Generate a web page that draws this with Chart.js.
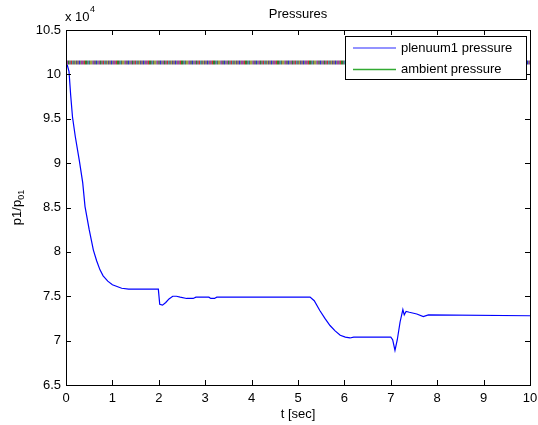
<!DOCTYPE html>
<html>
<head>
<meta charset="utf-8">
<title>Pressures</title>
<script src="https://cdn.jsdelivr.net/npm/chart.js"></script>
<style>
    html, body { margin: 0; padding: 0; background: #fff; }
    #myChart { display: block; }
</style>
</head>
<body>
<canvas id="myChart" width="538" height="425"></canvas>
<script>
// Dados da simulação (tempo em s, pressão em Pa)
const tempo = [0, 0.03, 0.065, 0.1, 0.14, 0.2, 0.29, 0.36, 0.41, 0.5,
    0.59, 0.66, 0.73, 0.8, 0.9, 1.0, 1.1, 1.2, 1.35, 1.99,
    2.02, 2.08, 2.15, 2.22, 2.3, 2.38, 2.46, 2.6, 2.74, 2.8,
    3.08, 3.12, 3.2, 3.25, 5.26, 5.35, 5.47, 5.58, 5.69, 5.8,
    5.91, 6.02, 6.12, 6.2, 7.0, 7.04, 7.09, 7.14, 7.2, 7.26,
    7.29, 7.33, 7.4, 7.56, 7.7, 7.81, 10];
const pressaoPlenum = [101300, 101000, 100300, 97700, 95200, 93000, 90200, 87800, 85100, 82500,
    80200, 79000, 78000, 77300, 76700, 76300, 76100, 75900, 75800, 75800,
    74100, 74000, 74300, 74700, 75000, 75000, 74900, 74750, 74750, 74900,
    74900, 74750, 74750, 74900, 74900, 74500, 73400, 72500, 71700, 71100,
    70600, 70400, 70300, 70400, 70400, 70100, 68900, 70100, 72100, 73500,
    72900, 73300, 73200, 73000, 72700, 72900, 72800];
const tempoAmbiente = [0, 10];
const pressaoAmbiente = [101325, 101325];

const ticksX = [0, 1, 2, 3, 4, 5, 6, 7, 8, 9, 10];
const ticksY = [65000, 70000, 75000, 80000, 85000, 90000, 95000, 100000, 105000];

const legendas = ['plenuum1 pressure', 'ambient pressure'];
const FONTE = '"Liberation Sans", Arial, sans-serif';

// linha do ambiente: listras coloridas (parece várias curvas sobrepostas)
function criarListras(ctx) {
    const cores = ['#3030d0', '#808080', '#a040a0', '#308030', '#7f6f7f', '#d03030', '#40a0a0', '#707070',
        '#a0a040', '#505090', '#8f6f6f', '#3030d0', '#6f8f6f', '#a040a0', '#787878', '#d03030',
        '#308030', '#806080', '#40a0a0', '#606060', '#a0a040', '#7f7f9f', '#a040a0', '#687068'];
    const larguras = [1, 2, 1, 1, 2, 1, 1, 2, 1, 1, 2, 1, 1, 2, 1, 1, 2, 1, 1, 1, 2, 1, 1, 2];
    const total = larguras.reduce((a, b) => a + b, 0);
    const c = document.createElement('canvas');
    c.width = total;
    c.height = 8;
    const g = c.getContext('2d');
    let x = 0;
    cores.forEach((cor, i) => {
        g.fillStyle = cor;
        g.fillRect(x, 0, larguras[i], 8);
        x += larguras[i];
    });
    return ctx.createPattern(c, 'repeat');
}

// moldura, ticks internos, títulos e legenda no estilo do MATLAB
const estiloMatlab = {
    id: 'estiloMatlab',
    afterDraw(chart) {
        const ctx = chart.ctx;
        const a = chart.chartArea;
        const sx = chart.scales.x;
        const sy = chart.scales.y;
        ctx.save();
        ctx.strokeStyle = '#000';
        ctx.lineWidth = 1;

        ticksX.forEach(v => {
            const px = Math.round(sx.getPixelForValue(v)) + 0.5;
            ctx.beginPath();
            ctx.moveTo(px, a.bottom); ctx.lineTo(px, a.bottom - 5);
            ctx.moveTo(px, a.top); ctx.lineTo(px, a.top + 5);
            ctx.stroke();
        });
        ticksY.forEach(v => {
            const py = Math.round(sy.getPixelForValue(v)) + 0.5;
            ctx.beginPath();
            ctx.moveTo(a.left, py); ctx.lineTo(a.left + 5, py);
            ctx.moveTo(a.right, py); ctx.lineTo(a.right - 5, py);
            ctx.stroke();
        });

        // legenda
        const lx = 345.5, ly = 36.5, lw = 181, lh = 43;
        ctx.fillStyle = '#fff';
        ctx.fillRect(lx, ly, lw, lh);
        ctx.strokeStyle = '#000';
        ctx.strokeRect(lx, ly, lw, lh);
        const linhas = [{ y: 48, cor: '#6f6fff' }, { y: 69.5, cor: '#33aa33' }];
        ctx.font = '13px ' + FONTE;
        ctx.textBaseline = 'middle';
        ctx.textAlign = 'left';
        linhas.forEach((l, i) => {
            ctx.strokeStyle = l.cor;
            ctx.lineWidth = 1.5;
            ctx.beginPath();
            ctx.moveTo(353, l.y);
            ctx.lineTo(396, l.y);
            ctx.stroke();
            ctx.fillStyle = '#000';
            ctx.fillText(legendas[i], 401, l.y);
        });

        // moldura
        ctx.lineWidth = 1;
        ctx.strokeStyle = '#000';
        ctx.strokeRect(Math.round(a.left) + 0.5, Math.round(a.top) + 0.5,
            Math.round(a.right - a.left), Math.round(a.bottom - a.top));

        // títulos
        ctx.fillStyle = '#000';
        ctx.textAlign = 'center';
        ctx.fillText('Pressures', (a.left + a.right) / 2, 14);
        ctx.fillText('t [sec]', (a.left + a.right) / 2, 414);

        ctx.textAlign = 'left';
        ctx.fillText('x 10', 65, 17);
        ctx.font = '9px ' + FONTE;
        ctx.fillText('4', 90, 10);

        // eixo y: p1/p01 com subscrito
        ctx.translate(21, (a.top + a.bottom) / 2);
        ctx.rotate(-Math.PI / 2);
        ctx.textBaseline = 'alphabetic';
        ctx.font = '13px ' + FONTE;
        const principal = 'p1/p';
        const wP = ctx.measureText(principal).width;
        ctx.font = '9px ' + FONTE;
        const wS = ctx.measureText('01').width;
        const x0 = -(wP + wS) / 2;
        ctx.font = '13px ' + FONTE;
        ctx.fillText(principal, x0, 0);
        ctx.font = '9px ' + FONTE;
        ctx.fillText('01', x0 + wP, 3);
        ctx.restore();
    }
};

let myChart;

document.addEventListener("DOMContentLoaded", function() {
    const ctx = document.getElementById('myChart').getContext('2d');

    const dadosPlenum = tempo.map((t, i) => ({ x: t, y: pressaoPlenum[i] }));
    const dadosAmbiente = tempoAmbiente.map((t, i) => ({ x: t, y: pressaoAmbiente[i] }));

    const config = {
        type: 'line',
        data: {
            datasets: [{
                label: legendas[0],
                data: dadosPlenum,
                borderColor: '#0000ff',
                borderWidth: 1.2,
                pointRadius: 0,
                tension: 0,
                order: 1
            }, {
                label: legendas[1],
                data: dadosAmbiente,
                borderColor: criarListras(ctx),
                borderWidth: 4,
                pointRadius: 0,
                tension: 0,
                order: 0
            }]
        },
        options: {
            responsive: false,
            animation: false,
            events: [],
            layout: { padding: { left: 0, top: 30, right: 8, bottom: 0 } },
            plugins: {
                legend: { display: false },
                tooltip: { enabled: false }
            },
            scales: {
                x: {
                    type: 'linear',
                    min: 0,
                    max: 10,
                    afterBuildTicks: s => { s.ticks = ticksX.map(v => ({ value: v })); },
                    afterFit: s => {
                        s.height = 40;
                        s.paddingLeft = 0;
                        s.paddingRight = 0;
                    },
                    grid: { display: false, drawTicks: false },
                    border: { display: false },
                    ticks: {
                        padding: 6,
                        maxRotation: 0,
                        color: '#000',
                        font: { family: FONTE, size: 13 }
                    }
                },
                y: {
                    type: 'linear',
                    min: 65000,
                    max: 105000,
                    afterBuildTicks: s => { s.ticks = ticksY.map(v => ({ value: v })); },
                    afterFit: s => {
                        s.width = 66;
                        s.paddingTop = 0;
                        s.paddingBottom = 0;
                    },
                    grid: { display: false, drawTicks: false },
                    border: { display: false },
                    ticks: {
                        padding: 5,
                        color: '#000',
                        font: { family: FONTE, size: 13 },
                        callback: v => String(v / 10000)
                    }
                }
            }
        },
        plugins: [estiloMatlab]
    };

    if (myChart) {
        myChart.destroy();
    }
    myChart = new Chart(ctx, config);
});
</script>
</body>
</html>
